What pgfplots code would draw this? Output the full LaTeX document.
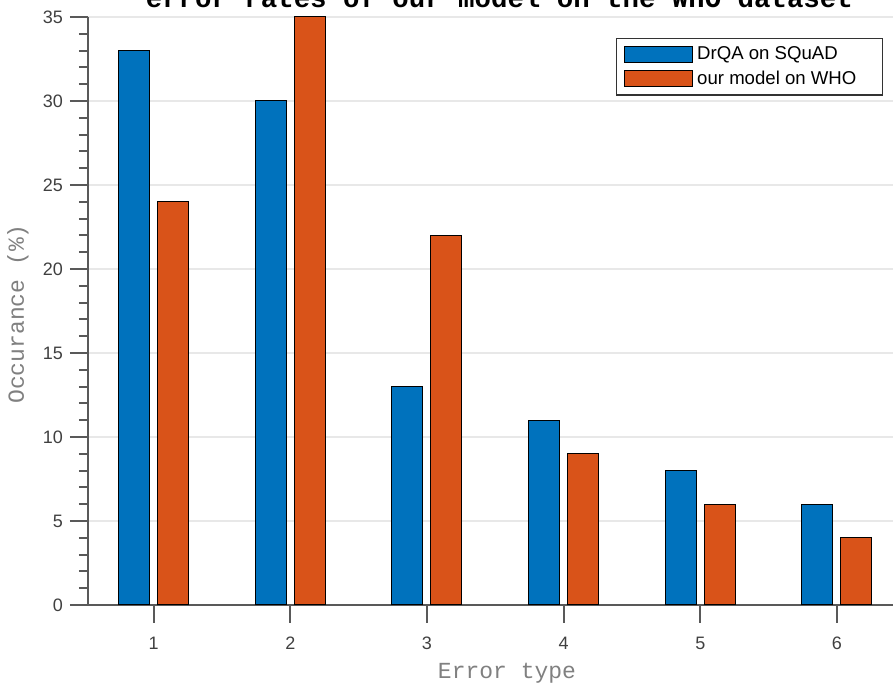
\documentclass[border=0pt]{standalone}
\usepackage{pgfplots}
\pgfplotsset{compat=1.18}
\usepackage{fontspec}
\setmainfont{Liberation Sans}
\newfontfamily\cour{Liberation Mono}
\definecolor{mblue}{HTML}{0072BD}
\definecolor{morange}{HTML}{D95319}
\definecolor{axgray}{HTML}{595959}
\definecolor{txtgray}{HTML}{404040}
\begin{document}
\begin{tikzpicture}
\begin{axis}[
  scale only axis,
  width=402.5pt, height=294pt,
  xmin=0.52, xmax=6.41,
  ymin=0, ymax=35,
  axis x line*=bottom, axis y line*=left,
  axis line style={-, axgray, line width=1pt},
  every tick/.style={axgray, line width=1pt},
  tick align=outside,
  xtick={1,2,3,4,5,6},
  ytick={0,5,...,35},
  minor y tick num=4,
  major tick length=9pt,
  minor tick length=4.5pt,
  ymajorgrids,
  major grid style={draw=black!9, line width=0.6pt},
  /pgf/number format/assume math mode=true,
  tick label style={font=\fontsize{9}{10}\selectfont, text=txtgray},
  xticklabel style={yshift=-3.5pt},
  every axis title shift=0pt,
  title={\cour\bfseries error rates of our model on the WHO dataset},
  title style={font=\fontsize{13.7}{15}\selectfont, at={(rel axis cs:0.511,1)}, anchor=base, yshift=4.5pt, inner sep=0pt},
  xlabel={\cour Error type},
  xlabel style={font=\fontsize{11.5}{12}\selectfont, text=black!50, at={(rel axis cs:0.5205,0)}, anchor=center, yshift=-34pt},
  ylabel={\cour Occurance (\%)},
  ylabel style={font=\fontsize{11.5}{12}\selectfont, text=black!50, at={(rel axis cs:0,0.495)}, anchor=center, yshift=35pt},
  legend style={at={(rel axis cs:1,1)}, anchor=north east, xshift=-5pt, yshift=-10.5pt,
    draw=black!80, line width=0.6pt, font=\fontsize{9.3}{10}\selectfont,
    row sep=0pt, inner xsep=4pt, inner ysep=2pt},
  legend cell align=left,
]
\addplot[ybar, bar width=15.5pt, bar shift=-9.75pt, fill=mblue, draw=black, line width=0.5pt,
  legend image code/.code={\draw[fill=mblue, draw=black, line width=0.5pt] (0pt,-4pt) rectangle (34pt,4pt);}]
  coordinates {(1,33) (2,30) (3,13) (4,11) (5,8) (6,6)};
\addlegendentry{DrQA on SQuAD}
\addplot[ybar, bar width=15.5pt, bar shift=9.75pt, fill=morange, draw=black, line width=0.5pt,
  legend image code/.code={\draw[fill=morange, draw=black, line width=0.5pt] (0pt,-4pt) rectangle (34pt,4pt);}]
  coordinates {(1,24) (2,35) (3,22) (4,9) (5,6) (6,4)};
\addlegendentry{our model on WHO\rule{7pt}{0pt}}
\coordinate (sw) at (rel axis cs:0,0);
\coordinate (ne) at (rel axis cs:1,1);
\end{axis}
\pgfresetboundingbox
\useasboundingbox ([xshift=-44pt,yshift=-39.5pt]sw) rectangle ([yshift=8.5pt]ne);
\end{tikzpicture}
\end{document}
